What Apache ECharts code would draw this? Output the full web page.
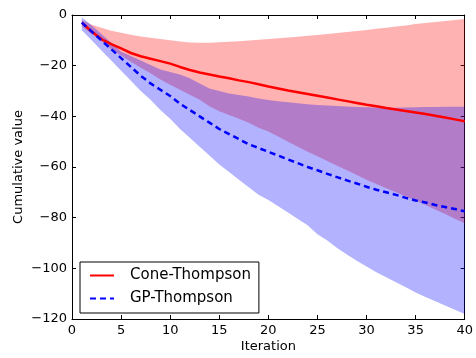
<!DOCTYPE html>
<html>
<head>
<meta charset="utf-8">
<script src="https://cdn.jsdelivr.net/npm/echarts@6/dist/echarts.min.js"></script>
<style>
html,body{margin:0;padding:0;background:#fff;}
#c{width:476px;height:358px;}
</style>
</head>
<body>
<div id="c"></div>
<script>
const iterations = [1,2,3,4,5,6,7,8,9,10,11,12,13,14,15,16,17,18,19,20,21,22,23,24,25,26,27,28,29,30,31,32,33,34,35,36,37,38,39,40];

const coneMean = [-3,-6.5,-9.5,-11.5,-13.2,-15,-16.3,-17.3,-18.2,-19.2,-20.5,-21.7,-22.7,-23.5,-24.3,-25,-25.8,-26.5,-27.3,-28.2,-29,-29.8,-30.5,-31.2,-31.9,-32.6,-33.3,-34,-34.7,-35.4,-36,-36.7,-37.3,-37.9,-38.5,-39.1,-39.8,-40.5,-41.2,-41.9];
const coneUpper = [-2,-3.8,-5,-6.2,-7,-7.8,-8.5,-9,-9.5,-10,-10.5,-10.9,-11,-11,-10.8,-10.6,-10.4,-10.1,-9.8,-9.5,-9.2,-8.9,-8.6,-8.2,-7.9,-7.5,-7.1,-6.7,-6.3,-5.9,-5.4,-5,-4.5,-4.1,-3.6,-3.2,-2.8,-2.4,-2,-1.6];
const coneLower = [-4.5,-7.5,-10.5,-13.5,-16,-18.5,-20.8,-23,-25.5,-27.5,-29.5,-31.5,-33.5,-36,-38,-39.5,-41,-42.5,-44.5,-46,-48,-50,-52,-54,-55.8,-57.6,-59.5,-61.3,-63.2,-65,-66.7,-68.4,-70,-71.6,-73.2,-75,-76.8,-78.6,-80.4,-82.2];

const gpMean = [-3,-6.5,-10,-13.5,-17,-20.5,-24,-27,-29.5,-32,-35,-37.5,-40,-42.5,-45,-47,-49,-51,-52.5,-54,-55.5,-57,-58.5,-60,-61.3,-62.7,-64,-65.3,-66.5,-67.8,-69,-70,-71,-72.2,-73.2,-74,-75,-75.8,-76.6,-77.5];
const gpUpper = [-1,-4,-7.5,-11,-14.5,-16.2,-18,-19.7,-21.5,-22.5,-23.5,-25,-27,-29,-30,-31,-31.6,-32.2,-33,-33.6,-34,-34.4,-34.8,-35.2,-35.5,-35.7,-35.9,-36.1,-36.3,-36.4,-36.5,-36.6,-36.6,-36.5,-36.4,-36.3,-36.3,-36.2,-36.2,-36.2];
const gpLower = [-6,-10,-14,-18,-22,-26,-30,-33.5,-37.5,-41,-45,-48.5,-52,-55.5,-59,-62,-65,-68,-71,-73,-75.5,-78,-80.5,-83,-86.5,-89,-92,-94.5,-97,-99.3,-101.5,-103.5,-105.5,-107.5,-109.5,-111.3,-113,-114.7,-116.3,-118];

const xTicks = [0,5,10,15,20,25,30,35,40];
const yTicks = [-120,-100,-80,-60,-40,-20,0];

const pairs = (ys) => iterations.map((x, i) => [x, ys[i]]);

const FONT = 'DejaVu Sans';
const fmt = v => String(v).replace('-', '\u2212');

function band(hi, lo, fill) {
  return {
    type: 'custom', silent: true, z: 1,
    data: [[iterations[0], hi[0]]],
    encode: { x: 0, y: 1 },
    renderItem: function (params, api) {
      const pts = [];
      for (let i = 0; i < iterations.length; i++) pts.push(api.coord([iterations[i], hi[i]]));
      for (let i = iterations.length - 1; i >= 0; i--) pts.push(api.coord([iterations[i], lo[i]]));
      return { type: 'polygon', shape: { points: pts }, style: { fill: fill, stroke: null } };
    }
  };
}

const chart = echarts.init(document.getElementById('c'), null, { renderer: 'canvas' });
chart.setOption({
  animation: false,
  backgroundColor: '#fff',
  textStyle: { fontFamily: FONT },
  grid: { left: 72, right: 11, top: 15, bottom: 39, containLabel: false },
  xAxis: [{
    type: 'value', min: 0, max: 40, interval: 5,
    name: 'Iteration', nameLocation: 'middle', nameGap: 21, nameMoveOverlap: false,
    nameTextStyle: { fontFamily: FONT, fontSize: 13, color: '#000' },
    axisLine: { show: true, onZero: false, lineStyle: { color: '#000', width: 1 } },
    axisTick: { show: true, inside: true, length: 4, lineStyle: { color: '#000' } },
    axisLabel: { fontFamily: FONT, fontSize: 13, color: '#000', margin: 5, formatter: fmt },
    splitLine: { show: false }
  }, {
    type: 'value', min: 0, max: 40, interval: 5, position: 'top',
    axisLine: { show: true, onZero: false, lineStyle: { color: '#000', width: 1 } },
    axisTick: { show: true, inside: true, length: 4, lineStyle: { color: '#000' } },
    axisLabel: { show: false }, splitLine: { show: false }
  }],
  yAxis: [{
    type: 'value', min: -120, max: 0, interval: 20,
    name: 'Cumulative value', nameLocation: 'middle', nameGap: 47, nameRotate: 90, nameMoveOverlap: false,
    nameTextStyle: { fontFamily: FONT, fontSize: 13, color: '#000' },
    axisLine: { show: true, onZero: false, lineStyle: { color: '#000', width: 1 } },
    axisTick: { show: true, inside: true, length: 4, lineStyle: { color: '#000' } },
    axisLabel: { fontFamily: FONT, fontSize: 13, color: '#000', margin: 5, formatter: fmt },
    splitLine: { show: false }
  }, {
    type: 'value', min: -120, max: 0, interval: 20, position: 'right',
    axisLine: { show: true, onZero: false, lineStyle: { color: '#000', width: 1 } },
    axisTick: { show: true, inside: true, length: 4, lineStyle: { color: '#000' } },
    axisLabel: { show: false }, splitLine: { show: false }
  }],
  legend: {
    data: ['Cone-Thompson', 'GP-Thompson'],
    orient: 'vertical', left: 80, top: 262,
    itemWidth: 24, itemHeight: 14, itemGap: 8,
    itemStyle: { opacity: 0 },
    padding: [6, 8, 7, 9],
    borderColor: '#000', borderWidth: 1, backgroundColor: '#fff',
    textStyle: { fontFamily: FONT, fontSize: 15, color: '#000', padding: [0, 0, 0, 11] },
    selectedMode: false
  },
  series: [
    band(coneUpper, coneLower, 'rgba(255,0,0,0.3)'),
    band(gpUpper, gpLower, 'rgba(0,0,255,0.3)'),
    {
      name: 'Cone-Thompson', type: 'line', data: pairs(coneMean), symbol: 'none',
      lineStyle: { color: '#ff0000', width: 2.5 }, itemStyle: { color: '#ff0000' }, z: 3
    },
    {
      name: 'GP-Thompson', type: 'line', data: pairs(gpMean), symbol: 'none',
      lineStyle: { color: '#0000ff', width: 2.5, type: [6, 4] }, itemStyle: { color: '#0000ff' }, z: 4
    }
  ]
});
</script>
</body>
</html>
